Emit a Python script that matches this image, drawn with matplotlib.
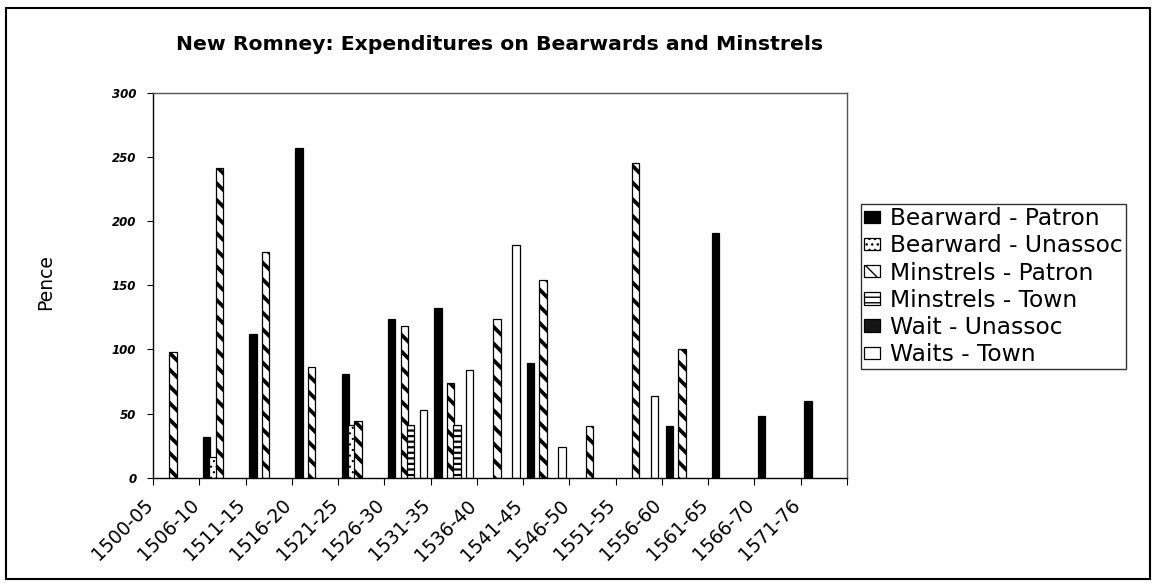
import numpy as np
import matplotlib
matplotlib.use("Agg")
import matplotlib.pyplot as plt
from matplotlib.patches import Rectangle, Patch
from matplotlib.transforms import ScaledTranslation

# ---- data (pence per five-year period) ----
periods = ["1500-05", "1506-10", "1511-15", "1516-20", "1521-25", "1526-30",
           "1531-35", "1536-40", "1541-45", "1546-50", "1551-55", "1556-60",
           "1561-65", "1566-70", "1571-76"]

bearward_patron  = [0, 32, 112, 257, 81, 124, 132, 0, 89, 0, 0, 40, 191, 48, 60]
bearward_unassoc = [0, 16, 0, 0, 41, 0, 0, 0, 0, 0, 0, 0, 0, 0, 0]
minstrels_patron = [98, 241, 176, 86, 44, 118, 74, 124, 154, 40, 245, 100, 0, 0, 0]
minstrels_town   = [0, 0, 0, 0, 0, 41, 41, 0, 0, 0, 0, 0, 0, 0, 0]
wait_unassoc     = [0, 0, 0, 0, 0, 0, 0, 0, 0, 0, 0, 0, 0, 0, 0]
waits_town       = [0, 0, 0, 0, 0, 53, 84, 181, 24, 0, 64, 0, 0, 0, 0]

series_names = ["Bearward - Patron", "Bearward - Unassoc", "Minstrels - Patron",
                "Minstrels - Town", "Wait - Unassoc", "Waits - Town"]
series_values = [bearward_patron, bearward_unassoc, minstrels_patron,
                 minstrels_town, wait_unassoc, waits_town]

y_ticks = [0, 50, 100, 150, 200, 250, 300]

# ---- figure geometry ----
W, H, DPI = 1156, 584, 100
fig = plt.figure(figsize=(W / DPI, H / DPI), dpi=DPI)
fig.patch.set_facecolor("white")


def px_rect(x0, y0, x1, y1):
    return [x0 / W, 1 - y1 / H, (x1 - x0) / W, (y1 - y0) / H]


ax = fig.add_axes(px_rect(153, 92.7, 847, 477.7))

# fill / pattern for each series
styles = [
    dict(facecolor="black", hatch=None, hlw=1.0),
    dict(facecolor="white", hatch="...", hlw=0.8),
    dict(facecolor="white", hatch="\\\\", hlw=2.7),
    dict(facecolor="white", hatch="---", hlw=1.6),
    dict(facecolor="#151515", hatch=None, hlw=1.0),
    dict(facecolor="white", hatch=None, hlw=1.0),
]


def apply_hatch_lw(patch, lw):
    try:
        patch.set_hatch_linewidth(lw)
    except AttributeError:
        pass


n = len(periods)
x = np.arange(n)
step = 0.137
width = 0.160

for k, (vals, st) in enumerate(zip(series_values, styles)):
    v = np.asarray(vals, dtype=float)
    mask = v > 0
    if not mask.any():
        continue
    with plt.rc_context({"hatch.linewidth": st["hlw"]}):
        bars = ax.bar(x[mask] + (k - 2.5) * step, v[mask], width,
                      facecolor=st["facecolor"], edgecolor="black",
                      linewidth=0.9, hatch=st["hatch"], zorder=2 + k * 0.01)
        for b in bars:
            apply_hatch_lw(b, st["hlw"])

# axes limits, ticks
ax.set_xlim(-0.5, n - 0.5)
ax.set_ylim(0, 300)
ax.set_yticks(y_ticks)
ax.set_yticklabels([str(t) for t in y_ticks], fontsize=8.5,
                   fontweight="bold", fontstyle="italic")
ax.tick_params(axis="y", direction="out", length=4, width=0.8, pad=8)

ax.set_xticks(np.arange(n + 1) - 0.5)
ax.set_xticklabels(periods + [""], rotation=45, ha="right", va="top",
                   rotation_mode="anchor", fontsize=13.5)
ax.tick_params(axis="x", direction="out", length=5, width=0.8, pad=8)
shift = ScaledTranslation(-10 / DPI, 0, fig.dpi_scale_trans)
for lab in ax.get_xticklabels():
    lab.set_transform(lab.get_transform() + shift)

for side in ("left", "bottom"):
    ax.spines[side].set_color("black")
    ax.spines[side].set_linewidth(1.0)
for side in ("top", "right"):
    ax.spines[side].set_color("#555555")
    ax.spines[side].set_linewidth(1.0)

# titles
fig.text(499.5 / W, 1 - 50 / H,
         "New Romney: Expenditures on Bearwards and Minstrels",
         ha="center", va="baseline", fontsize=14.7, fontweight="bold")
fig.text(45.7 / W, 1 - 281.7 / H, "Pence", rotation=90,
         ha="center", va="center", fontsize=13.5)

# legend
handles = []
for name, st in zip(series_names, styles):
    with plt.rc_context({"hatch.linewidth": st["hlw"]}):
        p = Patch(facecolor=st["facecolor"], edgecolor="black", linewidth=0.9,
                  hatch=st["hatch"], label=name)
        apply_hatch_lw(p, st["hlw"])
    handles.append(p)

leg = fig.legend(handles=handles, loc="upper left",
                 bbox_to_anchor=(861 / W, 1 - 204.3 / H),
                 bbox_transform=fig.transFigure, borderaxespad=0,
                 fontsize=16.8, frameon=True, fancybox=False, shadow=False,
                 handlelength=0.68, handleheight=0.45, handletextpad=0.45,
                 labelspacing=0.18, borderpad=0.12)
leg.get_frame().set_edgecolor("black")
leg.get_frame().set_linewidth(1.0)

# outer chart border
fig.patches.append(Rectangle((6 / W, 1 - 579 / H), (1150 - 6) / W, (579 - 8) / H,
                             transform=fig.transFigure, fill=False,
                             edgecolor="black", linewidth=1.5))

fig.savefig("out.png", dpi=DPI, facecolor="white")
